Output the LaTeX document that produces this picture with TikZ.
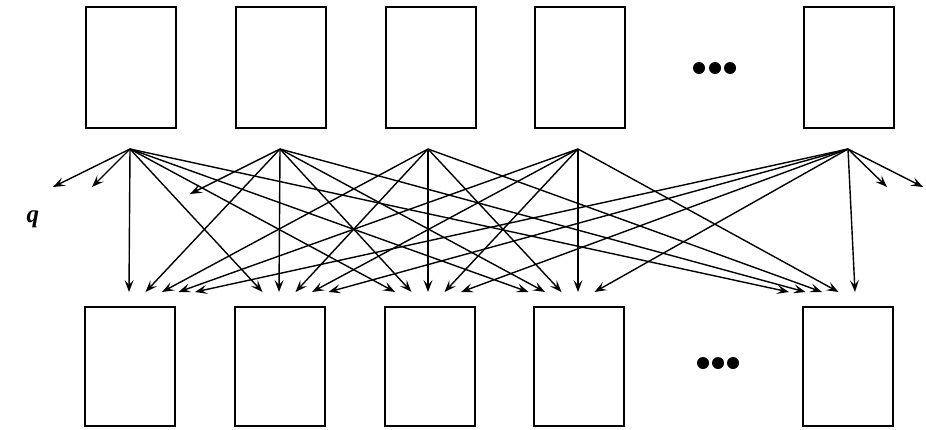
\documentclass[tikz,border=0pt]{standalone}
\usetikzlibrary{arrows.meta}
\usepackage{fontspec}
\setmainfont{Liberation Serif}
\begin{document}
\begin{tikzpicture}[x=1pt,y=-1pt,
  topbox/.style={draw, line width=1.6pt, minimum width=90pt, minimum height=121pt, inner sep=0pt, anchor=north west},
  botbox/.style={draw, line width=1.6pt, minimum width=90pt, minimum height=119pt, inner sep=0pt, anchor=north west},
  conn/.style={line width=1.4pt, -{Stealth[length=12pt,width=9pt,inset=5pt]}},
  dot/.style={circle, fill=black, inner sep=0pt, minimum size=12pt}]
\useasboundingbox (0,0) rectangle (926,429);
% top boxes
\node[topbox] (T1) at (85,6) {};
\node[topbox] (T2) at (235,6) {};
\node[topbox] (T3) at (385,6) {};
\node[topbox] (T4) at (534,6) {};
\node[topbox] (T5) at (803,6) {};
% bottom boxes
\node[botbox] (B1) at (84,306) {};
\node[botbox] (B2) at (234,306) {};
\node[botbox] (B3) at (384,306) {};
\node[botbox] (B4) at (533,306) {};
\node[botbox] (B5) at (802,306) {};
% dots
\node[dot] (d1) at (699,68) {};
\node[dot] (d2) at (715,68) {};
\node[dot] (d3) at (730,68) {};
\node[dot] (e1) at (703,363) {};
\node[dot] (e2) at (718,363) {};
\node[dot] (e3) at (733,363) {};
% label
\node[font=\fontsize{25}{25}\selectfont\bfseries\itshape] (q) at (33,219) {q};
% fan sources
\coordinate (a1) at (130,149);
\coordinate (a2) at (280,149);
\coordinate (a3) at (428,149);
\coordinate (a4) at (578,149);
\coordinate (a5) at (848,149);
% target centres
\foreach \j/\c in {1/129,2/279,3/428,4/578,5/855}{
  \foreach \i in {1,...,5}{
    \coordinate (t\j\i) at ({\c+(\i-\j)*16.5},292);
  }
}
% off-picture targets
\coordinate (o11) at (53,187);
\coordinate (o12) at (92,187);
\coordinate (o21) at (190,194);
\coordinate (o51) at (887,187);
\coordinate (o52) at (923,187);
% connectors
\foreach \i in {1,...,5}{
  \foreach \j in {1,...,5}{
    \draw[conn] (a\i) -- (t\j\i);
  }
}
\draw[conn] (a1) -- (o11);
\draw[conn] (a1) -- (o12);
\draw[conn] (a2) -- (o21);
\draw[conn] (a5) -- (o51);
\draw[conn] (a5) -- (o52);
\end{tikzpicture}
\end{document}
